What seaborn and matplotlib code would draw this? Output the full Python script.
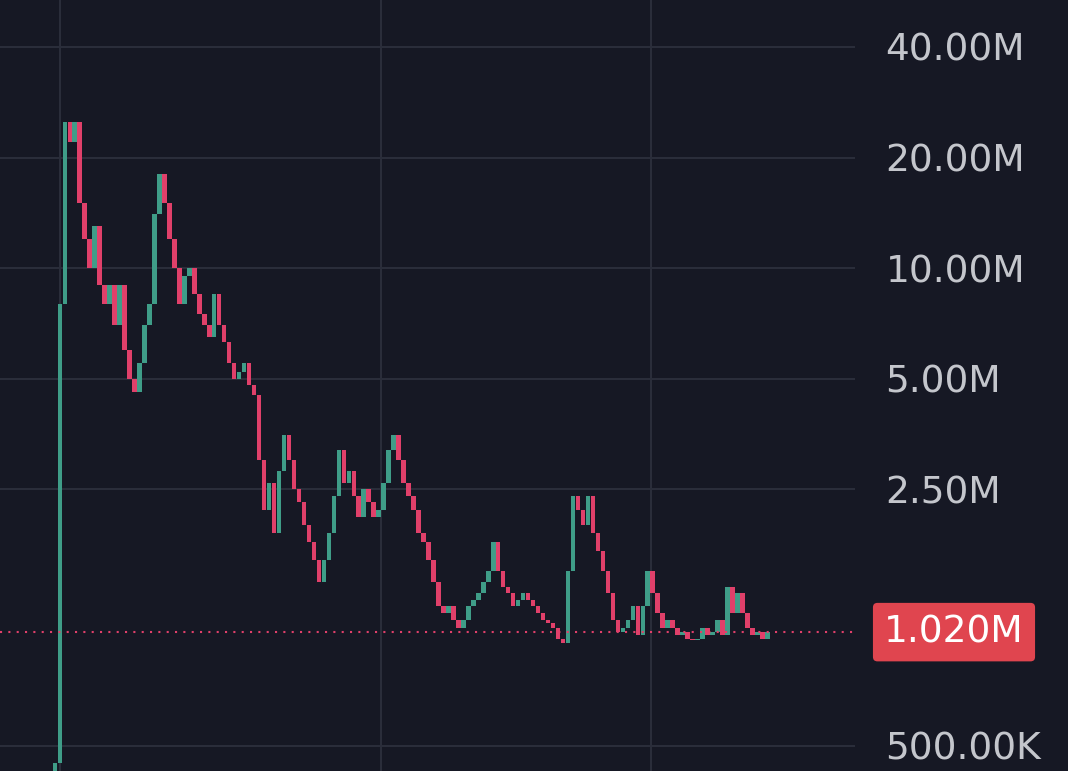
import numpy as np
import matplotlib
matplotlib.use("Agg")
import matplotlib.pyplot as plt
import seaborn as sns

# closing prices in millions, one candle per ~5px of the reference
CLOSES = [
    0.45, 8.0, 25.0, 22.0, 25.0, 15.0, 12.0, 10.0, 13.0, 9.0,
    8.0, 9.0, 7.0, 9.0, 6.0, 5.0, 4.6, 5.5, 7.0, 8.0,
    14.0, 18.0, 15.0, 12.0, 10.0, 8.0, 9.5, 10.0, 8.5, 7.5,
    7.0, 6.5, 8.5, 7.0, 6.3, 5.5, 5.0, 5.2, 5.5, 4.8,
    4.5, 3.0, 2.2, 2.6, 1.9, 2.8, 3.5, 3.0, 2.5, 2.3,
    2.0, 1.8, 1.6, 1.4, 1.6, 1.9, 2.4, 3.2, 2.6, 2.8,
    2.4, 2.1, 2.5, 2.3, 2.1, 2.2, 2.6, 3.2, 3.5, 3.0,
    2.6, 2.4, 2.2, 1.9, 1.8, 1.6, 1.4, 1.2, 1.15, 1.2,
    1.1, 1.05, 1.1, 1.2, 1.25, 1.3, 1.4, 1.5, 1.8, 1.5,
    1.35, 1.3, 1.2, 1.25, 1.3, 1.25, 1.2, 1.15, 1.1, 1.08,
    1.05, 0.98, 0.95, 1.5, 2.4, 2.2, 2.0, 2.4, 1.9, 1.7,
    1.5, 1.3, 1.1, 1.02, 1.05, 1.1, 1.2, 1.0, 1.2, 1.5,
    1.3, 1.15, 1.05, 1.1, 1.05, 1.0, 1.02, 0.98, 0.97, 0.98,
    1.05, 1.0, 1.02, 1.1, 1.0, 1.35, 1.15, 1.3, 1.15, 1.05,
    1.0, 1.02, 0.98, 1.02,
]
FIRST_OPEN = 0.42
LAST_PRICE = 1.02
TICK_VALUES = [40.0, 20.0, 10.0, 5.0, 2.5, 0.5]
TICK_LABELS = ["40.00M", "20.00M", "10.00M", "5.00M", "2.50M", "500.00K"]
VGRID = [1, 65.4, 119.6]

BG = "#161824"
GRID = "#2a2d3a"
UP = "#3f9d88"
DOWN = "#e0406a"
TEXT = "#c4c6cc"

sns.set_theme(style="dark")
plt.rcParams["font.family"] = ["DejaVu Sans"]

closes = np.array(CLOSES)
opens = np.concatenate([[FIRST_OPEN], closes[:-1]])
idx = np.arange(len(closes))
lo = np.minimum(opens, closes)
hi = np.maximum(opens, closes)
colors = [UP if c >= o else DOWN for o, c in zip(opens, closes)]

fig = plt.figure(figsize=(10.68, 7.71), dpi=100, facecolor=BG)
ax = fig.add_axes([0, 0, 855 / 1068, 1])
ax.set_facecolor(BG)

ax.bar(idx, hi - lo, bottom=lo, width=0.9, color=colors, linewidth=0)

ax.set_yscale("log")
ax.set_ylim(0.427, 53.7)
ax.set_xlim(-11, 160.6)

ax.set_yticks(TICK_VALUES)
ax.set_yticklabels(TICK_LABELS)
ax.minorticks_off()
ax.yaxis.tick_right()
ax.tick_params(axis="y", length=0, pad=22, labelsize=27, labelcolor=TEXT)
ax.set_xticks(VGRID)
ax.set_xticklabels([])
ax.tick_params(axis="x", length=0)
ax.grid(True, color=GRID, linewidth=1.5)
for s in ax.spines.values():
    s.set_visible(False)

ax.axhline(LAST_PRICE, color=DOWN, linestyle=(0, (1, 3)), linewidth=1.5)
ax.text(1.0 + 99 / 855, LAST_PRICE, f"{LAST_PRICE:.3f}M", transform=ax.get_yaxis_transform(),
        ha="center", va="center", fontsize=27, color="white", clip_on=False,
        bbox=dict(boxstyle="round,pad=0.3,rounding_size=0.12", fc="#e0454f", ec="none"))

fig.savefig("out.png", dpi=100, facecolor=BG)
